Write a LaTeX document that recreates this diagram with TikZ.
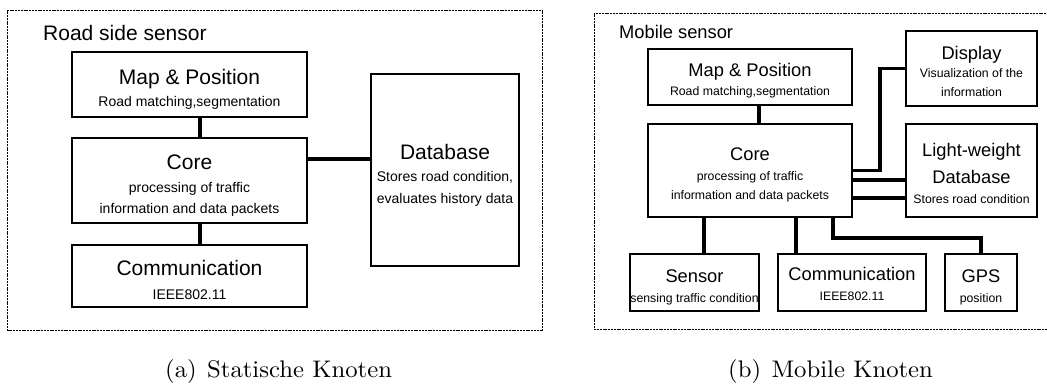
\documentclass[tikz,border=0pt]{standalone}
\usepackage{fontspec}
\usepackage{graphicx}
\newfontfamily\hvf{Liberation Sans}
\newfontfamily\capf{lmroman10-regular.otf}
\begin{document}
\begin{tikzpicture}[x=1pt,y=-1pt,
  bx/.style={draw, line width=1.4pt, inner sep=0pt, anchor=center},
  conn/.style={line width=3.8pt},
  frm/.style={draw, line width=1.2pt, dash pattern=on 2pt off 0.8pt, inner sep=0pt, anchor=north west},
  tl/.style={font=\hvf\fontsize{21}{25}\selectfont, inner sep=0pt, anchor=base},
  sl/.style={font=\hvf\fontsize{14}{17}\selectfont, inner sep=0pt, anchor=base},
  tr/.style={font=\hvf\fontsize{18.3}{22}\selectfont, inner sep=0pt, anchor=base},
  sr/.style={font=\hvf\fontsize{12.3}{15}\selectfont, inner sep=0pt, anchor=base},
  captxt/.style={font=\capf\fontsize{24}{29}\selectfont, inner sep=0pt, anchor=base west}]
\clip (0,0) rectangle (1047,385);
% frames
\node[frm, minimum width=535pt, minimum height=320pt] (lframe) at (7,10) {};
\node[frm, minimum width=460pt, minimum height=316pt] (rframe) at (593.5,13) {};
% ---------- left panel ----------
\node[tl, anchor=base west] (ltitle) at (43,40.5) {Road side sensor};
\node[bx, minimum width=235pt, minimum height=65pt] (lmap) at (189.5,84.5) {};
\node[bx, minimum width=235pt, minimum height=85pt] (lcore) at (189.5,180.5) {};
\node[bx, minimum width=235pt, minimum height=62pt] (lcom) at (189.5,276) {};
\node[bx, minimum width=148pt, minimum height=192pt] (ldb) at (445,170) {};
\node[tl] (lmapt) at (189.5,84.5) {Map \& Position};
\node[sl] (lmaps) at (189.5,107) {Road matching,segmentation};
\node[tl] (lcoret) at (189.5,169.5) {Core};
\node[sl] (lcores1) at (189.5,192) {processing of traffic};
\node[sl] (lcores2) at (189.5,213) {information and data packets};
\node[tl] (lcomt) at (189.5,275.5) {Communication};
\node[sl] (lcoms) at (189.5,299) {IEEE802.11};
\node[tl] (ldbt) at (445,159.5) {Database};
\node[sl] (ldbs1) at (445,182) {Stores road condition,};
\node[sl] (ldbs2) at (445,203) {evaluates history data};
\draw[conn] ([xshift=10.5pt]lmap.south) -- ([xshift=10.5pt]lcore.north);
\draw[conn] ([xshift=10.5pt]lcore.south) -- ([xshift=10.5pt]lcom.north);
\draw[conn] ([yshift=21.5pt]lcore.east) -- ([yshift=21.5pt]lcore.east -| ldb.west);
% ---------- right panel ----------
\node[tr, anchor=base west] (rtitle) at (619,38.6) {Mobile sensor};
\node[bx, minimum width=204pt, minimum height=56pt] (rmap) at (750,77) {};
\node[bx, minimum width=204pt, minimum height=93pt] (rcore) at (750,170.5) {};
\node[bx, minimum width=131pt, minimum height=75pt] (rdisp) at (971.5,68.5) {};
\node[bx, minimum width=131pt, minimum height=93pt] (rldb) at (971.5,170.5) {};
\node[bx, minimum width=129pt, minimum height=57pt] (rsens) at (694.5,282.5) {};
\node[bx, minimum width=148pt, minimum height=57pt] (rcom) at (852,282.5) {};
\node[bx, minimum width=72pt, minimum height=57pt] (rgps) at (981,282.5) {};
\node[tr] (rmapt) at (750,76.6) {Map \& Position};
\node[sr] (rmaps) at (750,96) {Road matching,segmentation};
\node[tr] (rcoret) at (750,160.6) {Core};
\node[sr] (rcores1) at (750,181) {processing of traffic};
\node[sr] (rcores2) at (750,199) {information and data packets};
\node[tr] (rdispt) at (971.5,59.6) {Display};
\node[sr] (rdisps1) at (971.5,78) {Visualization of the};
\node[sr] (rdisps2) at (971.5,97) {information};
\node[tr] (rldbt1) at (971.5,156.6) {Light-weight};
\node[tr] (rldbt2) at (971.5,183.6) {Database};
\node[sr] (rldbs) at (971.5,203) {Stores road condition};
\node[tr] (rsenst) at (694.5,282.6) {Sensor};
\node[sr] (rsenss) at (694.5,302) {sensing traffic condition};
\node[tr] (rcomt) at (852,280.6) {Communication};
\node[sr] (rcoms) at (852,300) {IEEE802.11};
\node[tr] (rgpst) at (981,282.6) {GPS};
\node[sr] (rgpss) at (981,302) {position};
\draw[conn] ([xshift=9pt]rmap.south) -- ([xshift=9pt]rcore.north);
\draw[conn] (rcore.east) -- ++(27,0) |- (rdisp.west);
\draw[conn] ([yshift=-9.5pt]rcore.east) -- ([yshift=-9.5pt]rcore.east -| rldb.west);
\draw[conn] ([yshift=-27.5pt]rcore.east) -- ([yshift=-27.5pt]rcore.east -| rldb.west);
\draw[conn] ([xshift=-46pt]rcore.south) -- ([xshift=-46pt]rcore.south |- rsens.north);
\draw[conn] ([xshift=46pt]rcore.south) -- ([xshift=46pt]rcore.south |- rcom.north);
\draw[conn] ([xshift=83pt]rcore.south) -- ++(0,20) -| (rgps.north);
% captions
\node[captxt] (capa) at (165,377) {\scalebox{1.03}[1]{(a)\hspace{0.42em}Statische Knoten}};
\node[captxt] (capb) at (728,377) {\scalebox{1.03}[1]{(b)\hspace{0.42em}Mobile Knoten}};
\end{tikzpicture}
\end{document}
